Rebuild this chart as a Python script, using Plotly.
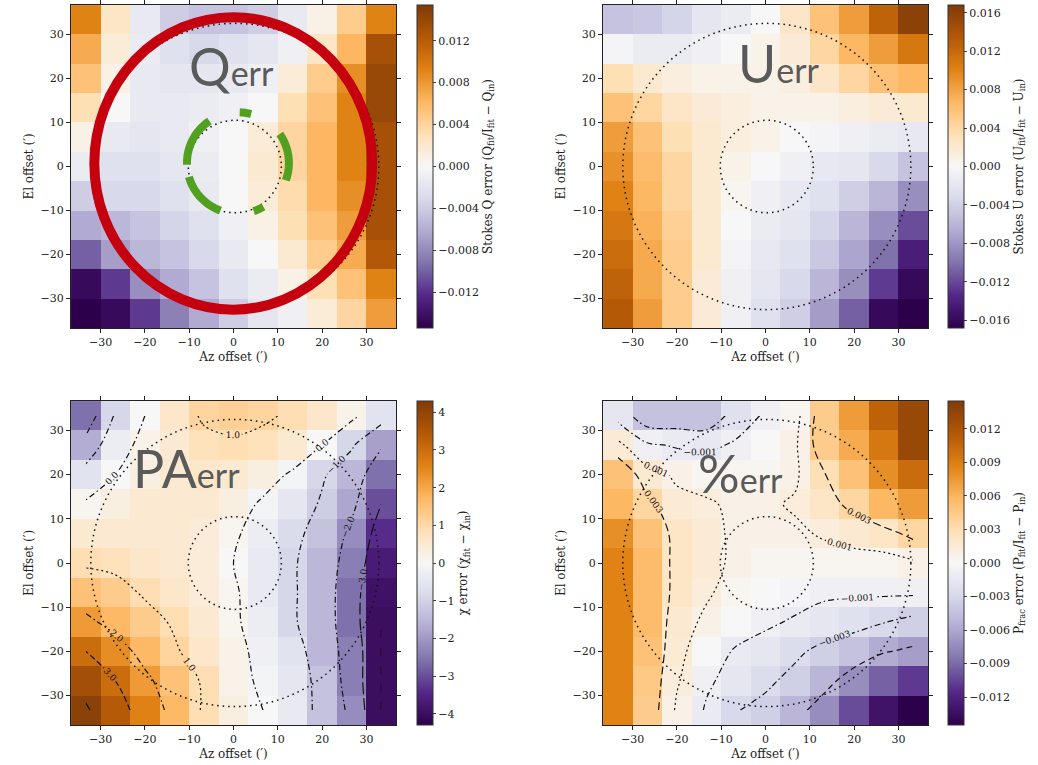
import math
import plotly.graph_objects as go

# ---------------- data ----------------
az_offsets = [-33.33, -26.67, -20.0, -13.33, -6.67, 0.0, 6.67, 13.33, 20.0, 26.67, 33.33]
el_offsets = [33.33, 26.67, 20.0, 13.33, 6.67, 0.0, -6.67, -13.33, -20.0, -26.67, -33.33]
axis_ticks = [-30, -20, -10, 0, 10, 20, 30]

Q_err = [
    [0.0092, 0.0023, -0.0015, -0.0039, -0.0046, -0.0046, -0.0039, -0.0015, 0.0008, 0.0046, 0.0092],
    [0.0069, 0.0015, -0.0012, -0.0023, -0.0031, -0.0023, -0.0018, -0.0008, 0.0023, 0.0062, 0.0131],
    [0.0054, 0.0008, -0.0015, -0.0018, -0.0018, -0.0015, -0.0008, 0.0015, 0.0046, 0.0085, 0.0139],
    [0.0031, 0.0000, -0.0015, -0.0015, -0.0012, -0.0008, 0.0000, 0.0031, 0.0054, 0.0092, 0.0139],
    [0.0008, -0.0015, -0.0018, -0.0015, -0.0008, 0.0000, 0.0015, 0.0039, 0.0062, 0.0092, 0.0131],
    [-0.0012, -0.0023, -0.0023, -0.0018, -0.0012, 0.0000, 0.0018, 0.0039, 0.0062, 0.0092, 0.0131],
    [-0.0039, -0.0031, -0.0031, -0.0023, -0.0015, 0.0000, 0.0015, 0.0034, 0.0062, 0.0085, 0.0131],
    [-0.0062, -0.0054, -0.0046, -0.0034, -0.0023, -0.0008, 0.0008, 0.0031, 0.0054, 0.0077, 0.0131],
    [-0.0100, -0.0069, -0.0054, -0.0046, -0.0031, -0.0015, 0.0000, 0.0018, 0.0046, 0.0069, 0.0123],
    [-0.0146, -0.0116, -0.0077, -0.0062, -0.0046, -0.0023, -0.0012, 0.0008, 0.0031, 0.0054, 0.0092],
    [-0.0154, -0.0146, -0.0116, -0.0085, -0.0062, -0.0039, -0.0018, -0.0008, 0.0015, 0.0039, 0.0077],
]

U_err = [
    [-0.0050, -0.0047, -0.0037, -0.0020, -0.0013, 0.0000, 0.0025, 0.0059, 0.0084, 0.0126, 0.0160],
    [-0.0003, -0.0013, -0.0013, -0.0008, 0.0000, 0.0008, 0.0017, 0.0042, 0.0067, 0.0084, 0.0109],
    [0.0034, 0.0020, 0.0013, 0.0008, 0.0008, 0.0008, 0.0013, 0.0025, 0.0042, 0.0059, 0.0067],
    [0.0059, 0.0042, 0.0025, 0.0017, 0.0013, 0.0008, 0.0008, 0.0008, 0.0013, 0.0017, 0.0020],
    [0.0084, 0.0059, 0.0034, 0.0020, 0.0013, 0.0008, 0.0000, -0.0003, -0.0008, -0.0013, -0.0017],
    [0.0092, 0.0064, 0.0042, 0.0020, 0.0008, 0.0000, -0.0008, -0.0017, -0.0020, -0.0034, -0.0050],
    [0.0101, 0.0067, 0.0042, 0.0020, 0.0003, -0.0008, -0.0017, -0.0025, -0.0042, -0.0059, -0.0084],
    [0.0109, 0.0071, 0.0047, 0.0020, 0.0000, -0.0013, -0.0020, -0.0037, -0.0059, -0.0084, -0.0118],
    [0.0118, 0.0076, 0.0050, 0.0020, -0.0003, -0.0017, -0.0025, -0.0047, -0.0071, -0.0101, -0.0143],
    [0.0126, 0.0076, 0.0050, 0.0017, -0.0008, -0.0020, -0.0034, -0.0059, -0.0084, -0.0126, -0.0160],
    [0.0134, 0.0084, 0.0050, 0.0017, -0.0008, -0.0025, -0.0042, -0.0076, -0.0109, -0.0160, -0.0168],
]

PA_err = [
    [-2.6, -0.9, 0.0, 0.6, 1.1, 1.2, 1.1, 0.9, 0.6, 0.2, -0.6],
    [-1.7, -0.3, 0.2, 0.5, 0.8, 0.9, 0.8, 0.5, 0.0, -0.9, -1.9],
    [-0.6, 0.0, 0.3, 0.5, 0.6, 0.5, 0.3, -0.1, -0.9, -1.5, -2.6],
    [0.1, 0.3, 0.5, 0.5, 0.5, 0.3, -0.1, -0.5, -1.1, -1.8, -3.0],
    [0.5, 0.5, 0.5, 0.5, 0.4, 0.1, -0.3, -0.8, -1.3, -2.2, -3.4],
    [0.9, 0.8, 0.6, 0.5, 0.4, 0.0, -0.4, -0.9, -1.5, -2.4, -3.7],
    [1.5, 1.3, 0.9, 0.6, 0.4, 0.1, -0.4, -0.9, -1.5, -2.6, -3.9],
    [2.2, 1.7, 1.3, 0.9, 0.5, 0.1, -0.3, -0.9, -1.5, -2.6, -4.0],
    [3.0, 2.4, 1.7, 1.1, 0.6, 0.2, -0.2, -0.6, -1.5, -2.4, -4.0],
    [3.7, 3.0, 2.2, 1.5, 0.9, 0.2, -0.1, -0.5, -1.3, -2.4, -4.0],
    [4.1, 3.4, 2.6, 1.7, 0.9, 0.3, 0.0, -0.4, -1.3, -2.2, -4.0],
]

P_err = [
    [-0.0017, -0.0044, -0.0044, -0.0044, -0.0022, -0.0007, 0.0003, 0.0044, 0.0073, 0.0109, 0.0131],
    [0.0015, -0.0007, -0.0012, -0.0015, -0.0007, 0.0000, 0.0007, 0.0044, 0.0065, 0.0094, 0.0131],
    [0.0051, 0.0017, 0.0007, 0.0003, 0.0003, 0.0003, 0.0007, 0.0029, 0.0051, 0.0080, 0.0102],
    [0.0058, 0.0036, 0.0015, 0.0012, 0.0007, 0.0007, 0.0012, 0.0022, 0.0036, 0.0058, 0.0073],
    [0.0080, 0.0051, 0.0022, 0.0015, 0.0007, 0.0007, 0.0007, 0.0012, 0.0017, 0.0022, 0.0036],
    [0.0087, 0.0055, 0.0022, 0.0015, 0.0007, 0.0003, 0.0003, 0.0003, 0.0003, 0.0003, 0.0007],
    [0.0087, 0.0055, 0.0022, 0.0012, 0.0004, 0.0000, -0.0003, -0.0007, -0.0007, -0.0007, -0.0007],
    [0.0087, 0.0055, 0.0017, 0.0007, 0.0000, -0.0007, -0.0012, -0.0017, -0.0022, -0.0029, -0.0036],
    [0.0087, 0.0051, 0.0015, 0.0000, -0.0012, -0.0017, -0.0026, -0.0036, -0.0044, -0.0058, -0.0065],
    [0.0087, 0.0046, 0.0012, -0.0007, -0.0017, -0.0026, -0.0036, -0.0051, -0.0073, -0.0094, -0.0109],
    [0.0087, 0.0044, 0.0007, -0.0012, -0.0029, -0.0036, -0.0051, -0.0073, -0.0102, -0.0131, -0.0145],
]

Q_ticks = [-0.012, -0.008, -0.004, 0.0, 0.004, 0.008, 0.012]
U_ticks = [-0.016, -0.012, -0.008, -0.004, 0.0, 0.004, 0.008, 0.012, 0.016]
PA_ticks = [-4, -3, -2, -1, 0, 1, 2, 3, 4]
P_ticks = [-0.012, -0.009, -0.006, -0.003, 0.0, 0.003, 0.006, 0.009, 0.012]

PA_levels = [-4, -3, -2, -1, 0, 1, 2, 3, 4]
PA_dashes = ["dash", "12px,4px", "6px,3px,1.5px,3px", "6px,3px,1.5px,3px", "6px,3px,1.5px,3px", "2px,3px", "6px,3px,1.5px,3px", "6px,3px", "solid"]
P_levels = [-0.006, -0.003, -0.001, 0.001, 0.003]
P_dashes = ["6px,4px", "6px,3px,1.5px,3px", "6px,3px,1.5px,3px", "2px,3px", "8px,4px"]

beam_radii = [10.5, 32.5]
beam_center = [0.3, 0.0]
red_ring = [-31.4, 31.3, -32.5, 33.9]          # x0, x1, y0, y1
green_center = [1.0, 0.8]
green_radius = 11.5
green_arcs = [(75, 88), (-20, 35), (-72, -60), (196, 250), (124, 182)]

# ---------------- style ----------------
puor_r = [[0.0, "rgb(45,0,75)"], [0.1, "rgb(84,39,136)"], [0.2, "rgb(128,115,172)"],
          [0.3, "rgb(178,171,210)"], [0.4, "rgb(216,218,235)"], [0.5, "rgb(247,247,247)"],
          [0.6, "rgb(254,224,182)"], [0.7, "rgb(253,184,99)"], [0.8, "rgb(224,130,20)"],
          [0.9, "rgb(179,88,6)"], [1.0, "rgb(127,59,8)"]]
SERIF = "DejaVu Serif"
W, H = 1038, 765

def px_x(p):
    return p / W

def px_y(p):
    return 1 - p / H

panels = [
    # name, x-left, x-right, y-top, y-bottom, cbar-left
    ("", 71, 396, 5, 328, 417),
    ("2", 603, 928, 5, 328, 948),
    ("3", 71, 396, 401, 725, 417),
    ("4", 603, 928, 401, 725, 948),
]

datasets = [
    (Q_err, 0.0154, Q_ticks, ".3f", "Stokes Q error (Q<sub>fit</sub>/I<sub>fit</sub> − Q<sub>in</sub>)"),
    (U_err, 0.0168, U_ticks, ".3f", "Stokes U error (U<sub>fit</sub>/I<sub>fit</sub> − U<sub>in</sub>)"),
    (PA_err, 4.3, PA_ticks, "d", "χ error (χ<sub>fit</sub> − χ<sub>in</sub>)"),
    (P_err, 0.0145, P_ticks, ".3f", "P<sub>frac</sub> error (P<sub>fit</sub>/I<sub>fit</sub> − P<sub>in</sub>)"),
]

fig = go.Figure()
layout_axes = {}
for (suf, xl, xr, yt, yb, cbx), (z, zlim, cticks, cfmt, ctitle) in zip(panels, datasets):
    xa = "x" + suf
    ya = "y" + suf
    fig.add_trace(go.Heatmap(
        x=az_offsets, y=el_offsets, z=z, colorscale=puor_r, zmin=-zlim, zmax=zlim,
        xaxis=xa, yaxis=ya, hoverinfo="skip",
        colorbar=dict(
            x=px_x(cbx), xanchor="left", xpad=0, ypad=0,
            y=px_y((yt + yb) / 2), yanchor="middle",
            lenmode="pixels", len=yb - yt, thickness=16,
            outlinewidth=1, outlinecolor="#333",
            tickvals=cticks, tickformat=cfmt, ticks="outside", ticklen=3,
            tickfont=dict(family=SERIF, size=11, color="#222"),
            title=dict(text=ctitle, side="right", font=dict(family=SERIF, size=12, color="#222")),
        ),
    ))
    axcommon = dict(range=[-36.67, 36.67], tickvals=axis_ticks, showgrid=False, zeroline=False,
                    showline=True, linecolor="#222", linewidth=1, mirror="ticks",
                    ticks="outside", ticklen=4, tickcolor="#222",
                    tickfont=dict(family=SERIF, size=11, color="#222"))
    layout_axes["xaxis" + suf] = dict(axcommon, domain=[px_x(xl), px_x(xr)], anchor=ya,
                                      title=dict(text="Az offset (′)", standoff=4,
                                                 font=dict(family=SERIF, size=12, color="#222")))
    layout_axes["yaxis" + suf] = dict(axcommon, domain=[px_y(yb), px_y(yt)], anchor=xa,
                                      title=dict(text="El offset (′)", standoff=4,
                                                 font=dict(family=SERIF, size=12, color="#222")))

# labelled contours (PA and polarisation fraction panels)
for lvl, dash in zip(PA_levels, PA_dashes):
    fig.add_trace(go.Contour(
        x=az_offsets, y=el_offsets, z=PA_err, xaxis="x3", yaxis="y3",
        autocontour=False, showscale=False, hoverinfo="skip",
        contours=dict(start=lvl, end=lvl, size=1, coloring="none", showlabels=True,
                      labelformat=".1f", labelfont=dict(family=SERIF, size=9, color="#111")),
        line=dict(color="#111", width=1.2, dash=dash, smoothing=1.0),
    ))
for lvl, dash in zip(P_levels, P_dashes):
    fig.add_trace(go.Contour(
        x=az_offsets, y=el_offsets, z=P_err, xaxis="x4", yaxis="y4",
        autocontour=False, showscale=False, hoverinfo="skip",
        contours=dict(start=lvl, end=lvl, size=0.001, coloring="none", showlabels=True,
                      labelformat=".3f", labelfont=dict(family=SERIF, size=9, color="#111")),
        line=dict(color="#111", width=1.2, dash=dash, smoothing=1.0),
    ))

shapes = []
# beam circles (dotted) in every panel
for suf, *_ in panels:
    for r in beam_radii:
        shapes.append(dict(type="circle", xref="x" + suf, yref="y" + suf,
                           x0=beam_center[0] - r, x1=beam_center[0] + r,
                           y0=beam_center[1] - r, y1=beam_center[1] + r,
                           line=dict(color="#111", width=1.5, dash="1.5px,4px")))
# red ring highlight on Q panel
shapes.append(dict(type="circle", xref="x", yref="y",
                   x0=red_ring[0], x1=red_ring[1], y0=red_ring[2], y1=red_ring[3],
                   line=dict(color="#c5000f", width=10)))
# green dashed ring on Q panel
for a0, a1 in green_arcs:
    n = max(2, int(abs(a1 - a0) / 2) + 1)
    pts = []
    for i in range(n + 1):
        a = math.radians(a0 + (a1 - a0) * i / n)
        pts.append((green_center[0] + green_radius * math.cos(a),
                    green_center[1] + green_radius * math.sin(a)))
    path = "M " + " L ".join(f"{px:.3f},{py:.3f}" for px, py in pts)
    shapes.append(dict(type="path", xref="x", yref="y", path=path,
                       line=dict(color="#52a020", width=8)))

# big panel titles
titles = [
    ("Q", 231, 66), ("U", 779, 63), ("PA", 186, 468), ("%", 740, 473),
]
annotations = []
for big, cx, cy in titles:
    annotations.append(dict(
        text=f"{big}<span style='font-size:34px'>err</span>",
        x=px_x(cx), y=px_y(cy), xref="paper", yref="paper",
        xanchor="center", yanchor="middle", showarrow=False,
        font=dict(family="Lato", size=52, color="#5a5a5a"),
    ))

fig.update_layout(
    width=W, height=H, margin=dict(l=0, r=0, t=0, b=0),
    paper_bgcolor="white", plot_bgcolor="white",
    showlegend=False, shapes=shapes, annotations=annotations,
    **layout_axes,
)

fig.write_html("out.html")
